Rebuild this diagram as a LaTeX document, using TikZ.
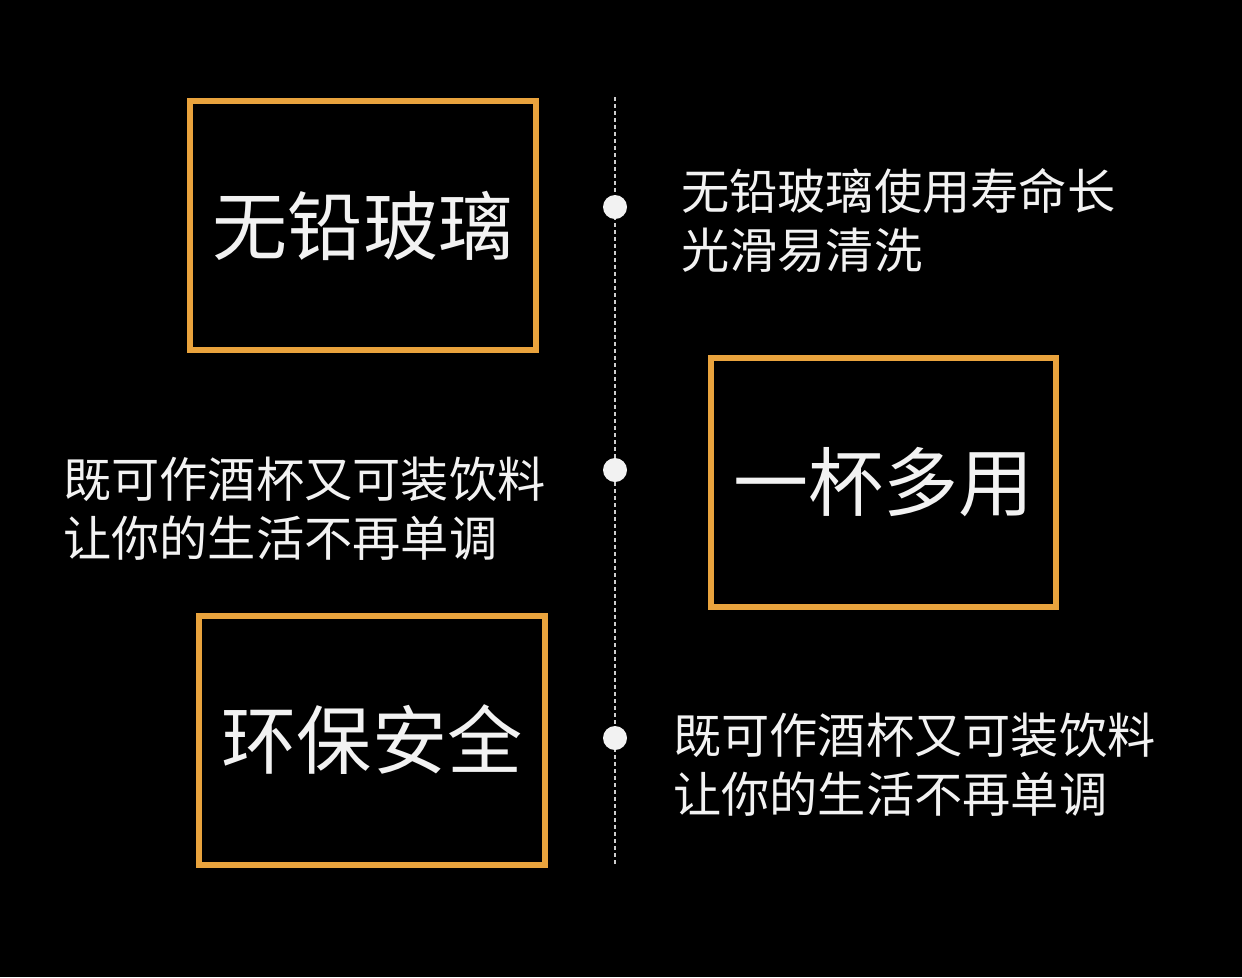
\documentclass[tikz,border=0pt]{standalone}
\usepackage{fontspec}
\newfontfamily\cjk{Noto Sans CJK SC}
\usetikzlibrary{positioning}
\definecolor{panelorange}{HTML}{E9A33D}
\definecolor{inkwhite}{HTML}{F2F2F2}

\begin{document}
\begin{tikzpicture}[x=0.25mm, y=-0.25mm,
    panel/.style={draw=panelorange, line width=1.5mm, inner sep=0pt,
                  minimum width=86.25mm, minimum height=62.25mm,
                  text=inkwhite, font=\cjk\fontsize{53.4pt}{60pt}\selectfont},
    note/.style={align=left, inner sep=0pt, text=inkwhite,
                 font=\cjk\fontsize{34.3pt}{41.3pt}\selectfont},
    dot/.style={circle, fill=inkwhite, inner sep=0pt, minimum size=6mm},
    spine/.style={draw=inkwhite!85!black, line width=0.5mm,
                  dash pattern=on 1mm off 0.75mm}
  ]
  % background and page size
  \fill[black] (0,0) rectangle (1242,977);
  \useasboundingbox (0,0) rectangle (1242,977);

  % timeline
  \coordinate (top) at (615,97);
  \coordinate (bottom) at (615,867);
  \draw[spine] (top) -- (bottom);
  \node[dot] (d1) at (615,207) {};
  \node[dot] (d2) at (615,470) {};
  \node[dot] (d3) at (615,738) {};

  % panels
  \node[panel] (glass) at (363,225.5) {无铅玻璃};
  \node[panel] (cup) at (883.5,482.5) {一杯多用};
  \node[panel] (safe) at (372,740) {环保安全};

  % notes (base = last line)
  \node[note, anchor=base west] (n1) at (681,268) {无铅玻璃使用寿命长\\光滑易清洗};
  \node[note, anchor=base west] (n2) at (63,556) {既可作酒杯又可装饮料\\让你的生活不再单调};
  \node[note, anchor=base west] (n3) at (673,812) {既可作酒杯又可装饮料\\让你的生活不再单调};
\end{tikzpicture}
\end{document}
